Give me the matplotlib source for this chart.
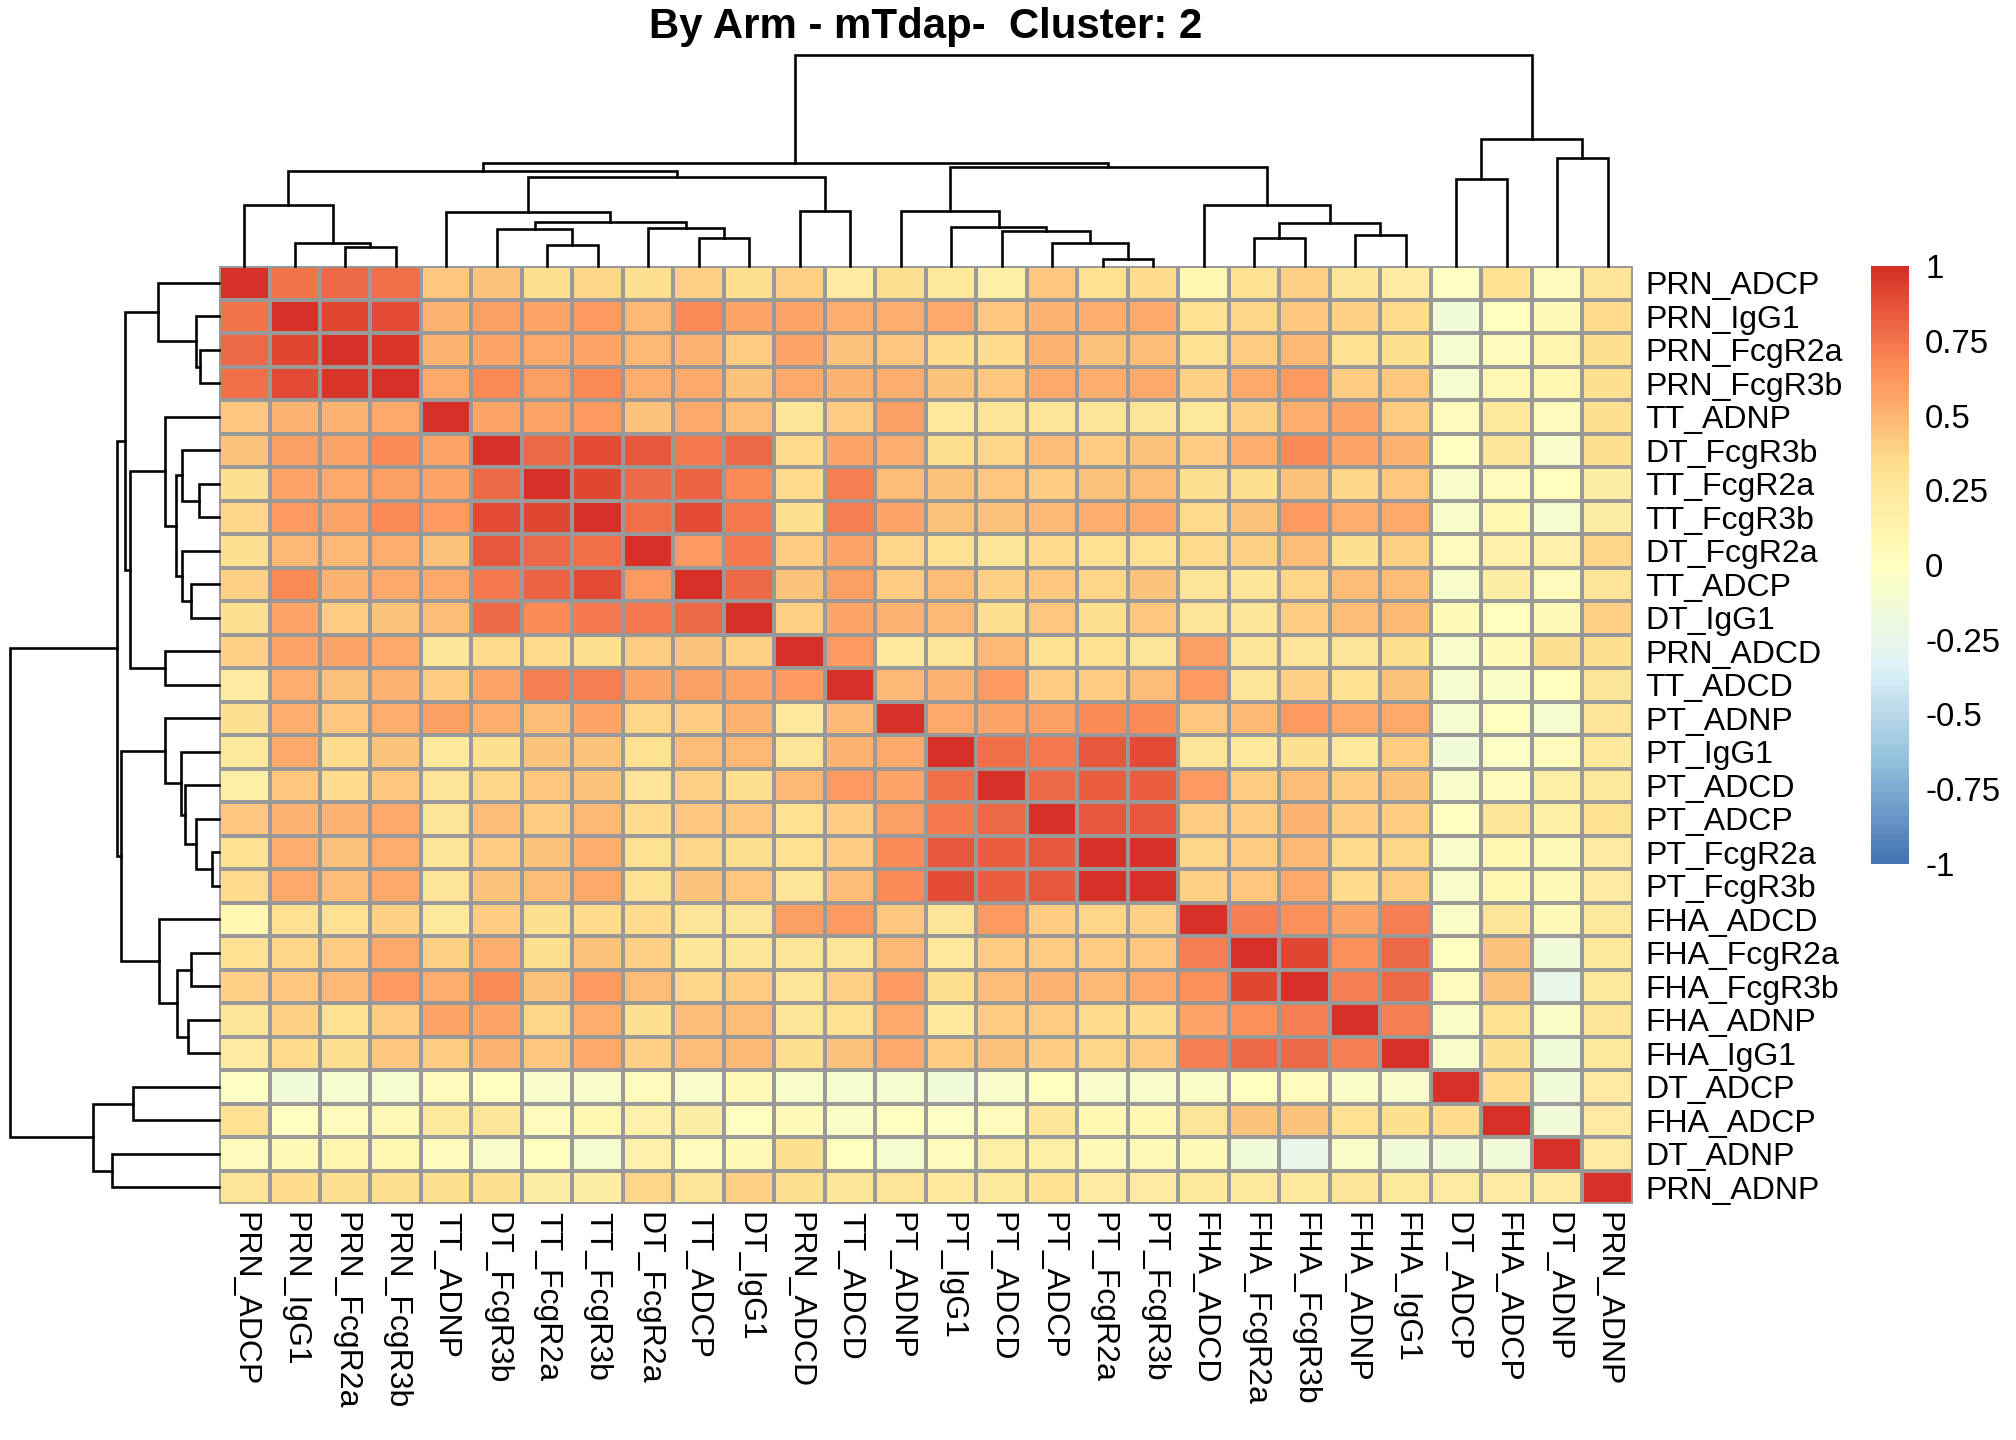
import numpy as np
import matplotlib
matplotlib.use("Agg")
import matplotlib.pyplot as plt
from matplotlib.colors import LinearSegmentedColormap

plt.rcParams['font.family'] = ['Liberation Sans', 'DejaVu Sans']

title = "By Arm - mTdap-  Cluster: 2"

labels = ["PRN_ADCP", "PRN_IgG1", "PRN_FcgR2a", "PRN_FcgR3b", "TT_ADNP",
          "DT_FcgR3b", "TT_FcgR2a", "TT_FcgR3b", "DT_FcgR2a", "TT_ADCP",
          "DT_IgG1", "PRN_ADCD", "TT_ADCD", "PT_ADNP", "PT_IgG1", "PT_ADCD",
          "PT_ADCP", "PT_FcgR2a", "PT_FcgR3b", "FHA_ADCD", "FHA_FcgR2a",
          "FHA_FcgR3b", "FHA_ADNP", "FHA_IgG1", "DT_ADCP", "FHA_ADCP",
          "DT_ADNP", "PRN_ADNP"]

# upper-triangle correlations: row i holds values for columns i+1 .. 27
r00 = [0.74, 0.79, 0.76, 0.43, 0.45, 0.32, 0.37, 0.32, 0.38, 0.32, 0.38, 0.20, 0.33,
       0.25, 0.17, 0.42, 0.31, 0.35, 0.08, 0.31, 0.38, 0.26, 0.20, -0.03, 0.30, 0.02, 0.28]
r01 = [0.90, 0.89, 0.50, 0.58, 0.57, 0.60, 0.49, 0.67, 0.56, 0.56, 0.52, 0.52,
       0.54, 0.43, 0.51, 0.53, 0.55, 0.31, 0.36, 0.43, 0.38, 0.35, -0.15, 0.01, 0.05, 0.35]
r02 = [0.97, 0.50, 0.57, 0.55, 0.57, 0.49, 0.51, 0.41, 0.56, 0.44, 0.43,
       0.35, 0.34, 0.50, 0.45, 0.47, 0.31, 0.41, 0.49, 0.31, 0.33, -0.10, 0.02, 0.10, 0.33]
r03 = [0.55, 0.67, 0.58, 0.67, 0.52, 0.55, 0.44, 0.54, 0.51, 0.53,
       0.45, 0.43, 0.54, 0.52, 0.55, 0.39, 0.54, 0.61, 0.41, 0.43, -0.10, 0.06, 0.08, 0.33]
r04 = [0.57, 0.57, 0.60, 0.44, 0.55, 0.47, 0.26, 0.41, 0.58,
       0.23, 0.28, 0.29, 0.29, 0.29, 0.24, 0.38, 0.53, 0.57, 0.41, 0.02, 0.24, 0.03, 0.32]
r05 = [0.79, 0.88, 0.85, 0.73, 0.79, 0.35, 0.57, 0.52,
       0.33, 0.36, 0.46, 0.41, 0.45, 0.41, 0.52, 0.67, 0.56, 0.51, 0.00, 0.26, -0.07, 0.33]
r06 = [0.91, 0.79, 0.82, 0.67, 0.35, 0.70, 0.47,
       0.44, 0.43, 0.41, 0.45, 0.46, 0.32, 0.32, 0.45, 0.36, 0.43, -0.07, 0.02, 0.01, 0.18]
r07 = [0.77, 0.88, 0.73, 0.33, 0.70, 0.56,
       0.45, 0.45, 0.49, 0.52, 0.54, 0.34, 0.45, 0.60, 0.52, 0.54, -0.08, 0.08, -0.09, 0.18]
r08 = [0.61, 0.73, 0.40, 0.56, 0.36,
       0.31, 0.29, 0.34, 0.30, 0.30, 0.35, 0.38, 0.46, 0.33, 0.38, 0.02, 0.15, 0.15, 0.36]
r09 = [0.79, 0.45, 0.58, 0.40,
       0.46, 0.38, 0.43, 0.36, 0.44, 0.29, 0.26, 0.36, 0.46, 0.46, -0.08, 0.18, 0.02, 0.29]
r10 = [0.38, 0.56, 0.50,
       0.49, 0.33, 0.43, 0.32, 0.42, 0.29, 0.26, 0.40, 0.47, 0.49, 0.04, 0.00, 0.05, 0.39]
r11 = [0.61, 0.23,
       0.29, 0.49, 0.30, 0.30, 0.29, 0.58, 0.29, 0.29, 0.28, 0.32, -0.07, 0.04, 0.32, 0.32]
r12 = [0.49,
       0.50, 0.60, 0.41, 0.41, 0.47, 0.60, 0.29, 0.39, 0.30, 0.45, -0.10, -0.05, 0.01, 0.26]
r13 = [0.55, 0.57, 0.58, 0.67, 0.67, 0.42, 0.49, 0.61, 0.55, 0.54, -0.09, 0.01, -0.09, 0.29]
r14 = [0.76, 0.73, 0.85, 0.88, 0.29, 0.23, 0.32, 0.23, 0.40, -0.15, -0.03, 0.02, 0.23]
r15 = [0.79, 0.83, 0.83, 0.61, 0.41, 0.46, 0.41, 0.45, -0.08, 0.03, 0.17, 0.24]
r16 = [0.85, 0.85, 0.41, 0.41, 0.50, 0.40, 0.40, 0.01, 0.26, 0.17, 0.30]
r17 = [0.98, 0.36, 0.41, 0.49, 0.34, 0.36, -0.07, 0.08, 0.05, 0.20]
r18 = [0.38, 0.42, 0.54, 0.34, 0.41, -0.07, 0.08, 0.04, 0.20]
r19 = [0.71, 0.64, 0.56, 0.70, -0.05, 0.28, 0.05, 0.24]
r20 = [0.91, 0.64, 0.79, 0.01, 0.45, -0.15, 0.24]
r21 = [0.70, 0.79, 0.02, 0.44, -0.25, 0.24]
r22 = [0.70, -0.05, 0.30, -0.05, 0.29]
r23 = [-0.07, 0.32, -0.15, 0.24]
r24 = [0.35, -0.15, 0.20]
r25 = [-0.15, 0.20]
r26 = [0.20]

upper_rows = [r00, r01, r02, r03, r04, r05, r06, r07, r08, r09, r10, r11, r12, r13,
              r14, r15, r16, r17, r18, r19, r20, r21, r22, r23, r24, r25, r26]

# hierarchical clustering tree (hclust-style merges; ids >= 28 are earlier merges)
merge_a = [17, 2, 6, 16, 1, 9, 20, 22, 15, 5, 8, 14, 34, 37, 4, 11, 13, 19, 0, 24,
           42, 46, 44, 49, 26, 47, 51]
merge_b = [18, 3, 7, 28, 29, 10, 21, 23, 31, 30, 33, 36, 35, 38, 41, 12, 39, 40, 32, 25,
           43, 48, 45, 50, 27, 52, 53]
merge_h = [0.035, 0.089, 0.098, 0.108, 0.110, 0.132, 0.132, 0.146, 0.165, 0.175, 0.179,
           0.184, 0.203, 0.208, 0.256, 0.260, 0.260, 0.289, 0.290, 0.413, 0.424, 0.451,
           0.470, 0.489, 0.513, 0.603, 1.0]

cbar_ticks = [1, 0.75, 0.5, 0.25, 0, -0.25, -0.5, -0.75, -1]
cbar_labels = ["1", "0.75", "0.5", "0.25", "0", "-0.25", "-0.5", "-0.75", "-1"]

# ---------------------------------------------------------------------------
n = len(labels)
mat = np.eye(n)
for i, row in enumerate(upper_rows):
    for k, v in enumerate(row):
        j = i + 1 + k
        mat[i, j] = v
        mat[j, i] = v

pal = ["#4575B4", "#91BFDB", "#E0F3F8", "#FFFFBF", "#FEE090", "#FC8D59", "#D73027"]
cmap = LinearSegmentedColormap.from_list("rdylbu_r", pal, N=100)

fig = plt.figure(figsize=(14, 10), dpi=144)

L, R = 219 / 2016, 1633 / 2016
B, T = 1 - 1204 / 1440, 1 - 266 / 1440
ax = fig.add_axes([L, B, R - L, T - B])
mesh = ax.pcolormesh(np.arange(n + 1), np.arange(n + 1), mat, cmap=cmap, vmin=-1, vmax=1,
                     edgecolors="#999999", linewidth=1.1)
ax.set_xlim(0, n)
ax.set_ylim(n, 0)
for s in ax.spines.values():
    s.set_visible(False)
ax.set_xticks(np.arange(n) + 0.5)
ax.set_xticklabels(labels, rotation=270, ha="center", va="top", fontsize=16)
ax.set_yticks(np.arange(n) + 0.5)
ax.set_yticklabels(labels, fontsize=16)
ax.yaxis.tick_right()
ax.tick_params(axis="x", length=0, pad=4)
ax.tick_params(axis="y", length=0, pad=6)


def dendro_segments():
    pos = list(np.arange(n) + 0.5)
    hts = [0.0] * n
    segs = []
    for a, b, h in zip(merge_a, merge_b, merge_h):
        xa, xb = pos[a], pos[b]
        segs.append(([xa, xa, xb, xb], [hts[a], h, h, hts[b]]))
        pos.append((xa + xb) / 2)
        hts.append(h)
    return segs


segs = dendro_segments()
top_h = 1 - 55 / 1440
ax_top = fig.add_axes([L, T, R - L, top_h - T])
for xs, ys in segs:
    ax_top.plot(xs, ys, color="black", lw=1.3, clip_on=False, solid_joinstyle="miter")
ax_top.set_xlim(0, n)
ax_top.set_ylim(0, max(merge_h))
ax_top.axis("off")

left_x = 10 / 2016
ax_left = fig.add_axes([left_x, B, L - left_x, T - B])
for xs, ys in segs:
    ax_left.plot(ys, xs, color="black", lw=1.3, clip_on=False, solid_joinstyle="miter")
ax_left.set_ylim(n, 0)
ax_left.set_xlim(max(merge_h), 0)
ax_left.axis("off")

cax = fig.add_axes([1871 / 2016, 0.40, 38 / 2016, T - 0.40])
cb = fig.colorbar(mesh, cax=cax, ticks=cbar_ticks)
cb.outline.set_visible(False)
cb.set_ticklabels(cbar_labels)
cax.tick_params(length=0, pad=8, labelsize=16.5)

fig.text((L + R) / 2, 1 - 38 / 1440, title, ha="center", va="baseline",
         fontsize=21, fontweight="bold")

fig.savefig("out.png", dpi=144)
